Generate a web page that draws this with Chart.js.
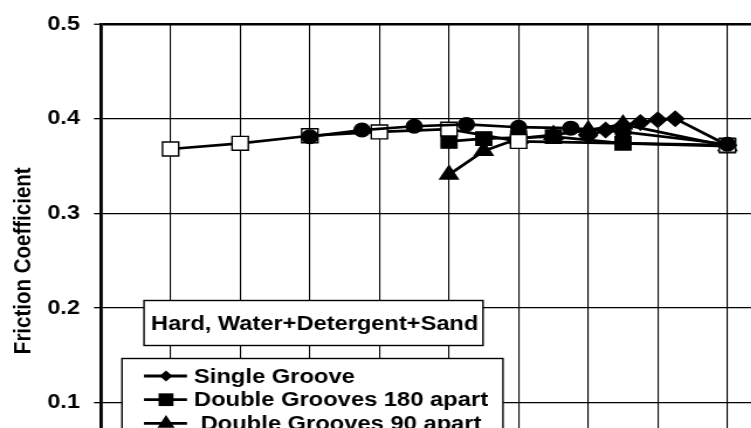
<!DOCTYPE html>
<html>
<head>
<meta charset="utf-8">
<script src="https://cdn.jsdelivr.net/npm/chart.js@4.4.1/dist/chart.umd.min.js"></script>
<style>
  html, body { margin: 0; padding: 0; background: #fff; }
  #wrap { position: relative; width: 751px; height: 428px; overflow: hidden; background: #fff; }
  #chartFriction { position: absolute; left: 0; top: 0; transform: scaleX(1.17); transform-origin: 0 0; }
</style>
</head>
<body>
<div id="wrap"><canvas id="chartFriction" width="710" height="560"></canvas></div>
<script>
// Datos
const seriesNames = ["Single Groove", "Double Grooves 180 apart", " Double Grooves 90 apart", "Triple Grooves 120 apart", "No Groove"];
const chartNote = "Hard, Water+Detergent+Sand";
const yTitle = "Friction Coefficient";

const singleX = [7, 7.25, 7.5, 7.75, 8, 8.25, 9];
const singleY = [0.382, 0.388, 0.393, 0.396, 0.399, 0.400, 0.372];
const d180X = [5, 5.5, 6, 6.5, 7.5, 9];
const d180Y = [0.376, 0.379, 0.380, 0.381, 0.374, 0.371];
const d90X = [5, 5.5, 6, 6.5, 7, 7.5, 9];
const d90Y = [0.341, 0.366, 0.379, 0.383, 0.388, 0.394, 0.371];
const tripleX = [3, 3.75, 4.5, 5.25, 6, 6.75, 7.5, 9];
const tripleY = [0.381, 0.388, 0.392, 0.394, 0.391, 0.390, 0.386, 0.373];
const noneX = [1, 2, 3, 4, 5, 6, 9];
const noneY = [0.368, 0.374, 0.382, 0.386, 0.389, 0.376, 0.372];

const yTicks = [0, 0.1, 0.2, 0.3, 0.4, 0.5];

// estiramiento horizontal del original
const S = 1.17;
const sx = (px) => px / S;
const FONT = "'Liberation Sans', Arial, sans-serif";

const toPoints = (xs, ys) => xs.map((x, i) => ({ x, y: ys[i] }));

const mk = (label, xs, ys, style, radius, fill, order) => ({
  label,
  data: toPoints(xs, ys),
  showLine: true,
  borderColor: "#000",
  borderWidth: 2.7,
  pointStyle: style,
  pointRadius: radius,
  pointHoverRadius: radius,
  pointBackgroundColor: fill,
  pointBorderColor: "#000",
  pointBorderWidth: 1.4,
  order,
});

const datasets = [
  mk(seriesNames[0], singleX, singleY, "rectRot", 7.5, "#000", 5),
  mk(seriesNames[1], d180X, d180Y, "rect", 9.5, "#000", 4),
  mk(seriesNames[2], d90X, d90Y, "triangle", 9, "#000", 3),
  mk(seriesNames[4], noneX, noneY, "rect", 9.8, "#fff", 2),
  mk(seriesNames[3], tripleX, tripleY, "circle", 6.8, "#000", 1),
];

//Dibujar un marcador para la leyenda
const drawMarker = (ctx, style, x, y, r) => {
  ctx.beginPath();
  if (style === "rectRot") {
    ctx.moveTo(x - r, y); ctx.lineTo(x, y - r); ctx.lineTo(x + r, y); ctx.lineTo(x, y + r);
  } else if (style === "rect") {
    ctx.rect(x - r * 0.707, y - r * 0.707, r * 1.414, r * 1.414);
  } else if (style === "triangle") {
    ctx.moveTo(x - r * 0.866, y + r * 0.5); ctx.lineTo(x, y - r); ctx.lineTo(x + r * 0.866, y + r * 0.5);
  } else {
    ctx.arc(x, y, r, 0, Math.PI * 2);
  }
  ctx.closePath();
  ctx.fill();
};

//Cuadro de texto y leyenda dentro del grafico
const boxesPlugin = {
  id: "boxes",
  afterDraw(chart) {
    const ctx = chart.ctx;
    ctx.save();
    ctx.lineWidth = 1.4;
    ctx.strokeStyle = "#000";

    // cuadro del titulo
    const tx0 = sx(144), tx1 = sx(483);
    ctx.fillStyle = "#fff";
    ctx.fillRect(tx0, 300.5, tx1 - tx0, 45);
    ctx.strokeRect(tx0, 300.5, tx1 - tx0, 45);
    ctx.fillStyle = "#000";
    ctx.font = "bold 20.2px " + FONT;
    ctx.textBaseline = "middle";
    ctx.textAlign = "left";
    ctx.fillText(chartNote, sx(151), 324);

    // leyenda
    const lx0 = sx(122), lx1 = sx(503);
    ctx.fillStyle = "#fff";
    ctx.fillRect(lx0, 358.5, lx1 - lx0, 180);
    ctx.strokeRect(lx0, 358.5, lx1 - lx0, 180);

    ctx.font = "bold 20.3px " + FONT;
    const legendStyles = [["rectRot", 5.5], ["rect", 9], ["triangle", 8.5], ["circle", 6.5], ["rect", 9]];
    seriesNames.forEach((name, i) => {
      const y = 376 + i * 23.7;
      ctx.strokeStyle = "#000";
      ctx.lineWidth = 2.8;
      ctx.beginPath();
      ctx.moveTo(sx(144), y);
      ctx.lineTo(sx(187), y);
      ctx.stroke();
      ctx.fillStyle = "#000";
      drawMarker(ctx, legendStyles[i][0], sx(166), y, legendStyles[i][1]);
      ctx.fillText(name, sx(194), y + 1);
    });
    ctx.restore();
  },
};

const ctx = document.getElementById("chartFriction").getContext("2d");
new Chart(ctx, {
  type: "scatter",
  data: { datasets },
  options: {
    responsive: false,
    animation: false,
    devicePixelRatio: 1,
    layout: { padding: { left: 0, top: 20, right: 28.8, bottom: 0 } },
    scales: {
      x: {
        type: "linear",
        min: 0,
        max: 10,
        ticks: { display: false, stepSize: 1 },
        grid: { color: "#000", lineWidth: 1.1, drawTicks: false },
        border: { display: true, color: "#000", width: 2.5 },
        afterFit: (scale) => { scale.height = 62.5; },
      },
      y: {
        type: "linear",
        min: yTicks[0],
        max: yTicks[yTicks.length - 1],
        afterBuildTicks: (scale) => { scale.ticks = yTicks.map((v) => ({ value: v })); },
        ticks: {
          color: "#000",
          padding: 12,
          font: { family: FONT, size: 20, weight: "bold" },
          callback: (v) => v.toFixed(1),
        },
        grid: {
          color: "#000",
          lineWidth: (c) => (c.tick && Math.abs(c.tick.value - 0.5) < 1e-6 ? 2.5 : 1.3),
          tickLength: 6,
          tickWidth: 1.3,
          tickColor: "#000",
        },
        border: { display: true, color: "#000", width: 2.8 },
        title: {
          display: true,
          text: yTitle,
          color: "#000",
          font: { family: FONT, size: 20.5, weight: "bold" },
          padding: { top: 8, bottom: 0 },
        },
        afterFit: (scale) => { scale.width = 86.3; },
      },
    },
    plugins: {
      legend: { display: false },
      tooltip: { enabled: false },
    },
  },
  plugins: [boxesPlugin],
});
</script>
</body>
</html>
